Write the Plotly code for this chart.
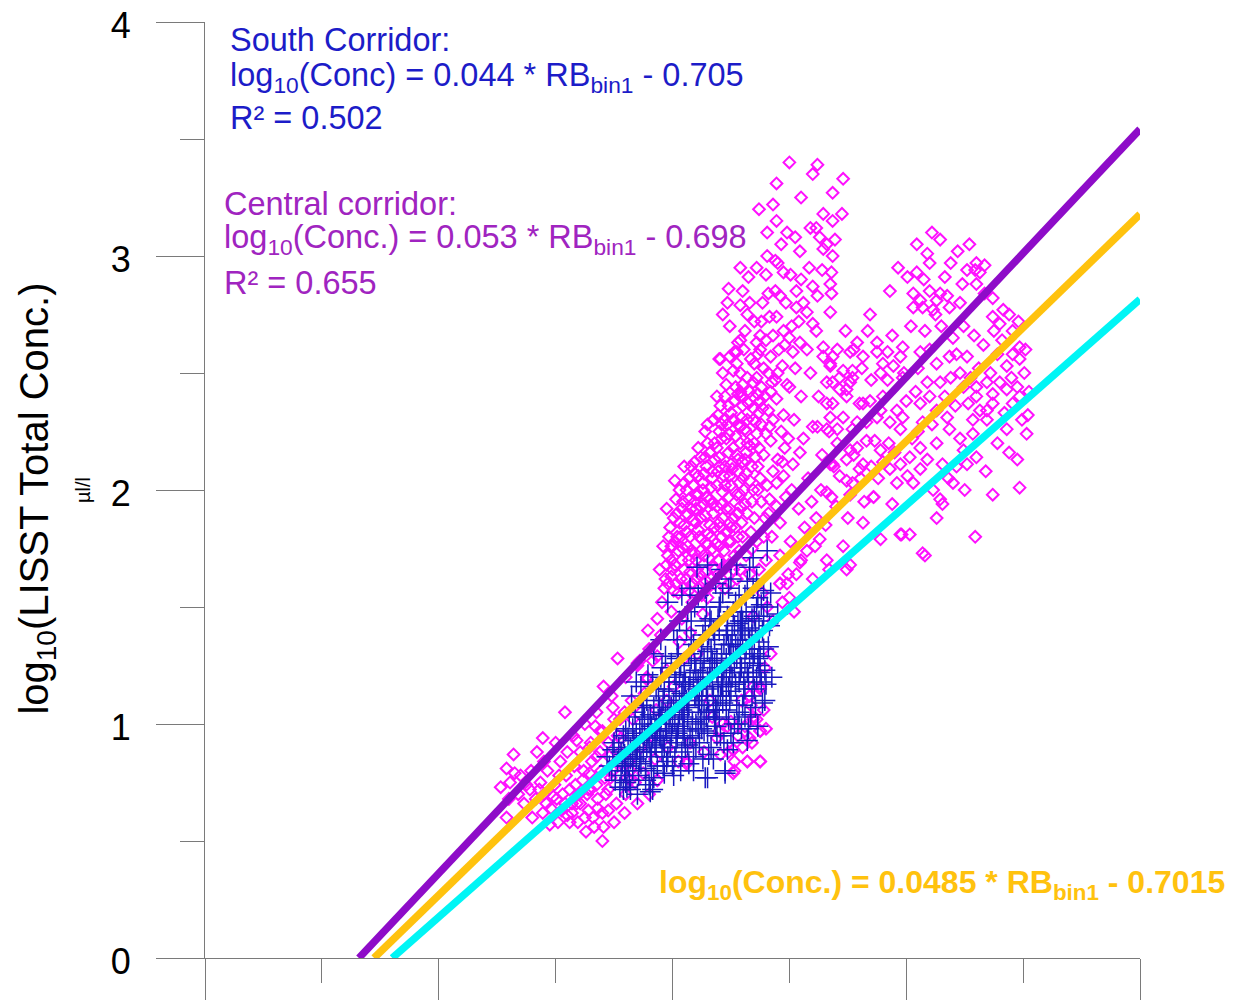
import plotly.graph_objects as go

# ---------------- data ----------------
# regression fits  log10(Conc) = slope * RB_bin1 + intercept
fit_central = (0.053, -0.698)
fit_combined = (0.0485, -0.7015)
fit_south = (0.044, -0.705)
rb_max = 80

x_major_ticks = [0, 20, 40, 60, 80]
y_major_ticks = [0, 1, 2, 3, 4]

# South corridor samples (RB_bin1, log10 conc)
south_pts = [
    (34.4, 0.86), (34.8, 0.80), (35.0, 0.92), (35.3, 0.84), (35.6, 0.78), (35.8, 0.95), (35.2, 0.98),
    (34.9, 0.89), (35.9, 0.87), (35.5, 0.73),
    (36.1, 0.73), (36.2, 0.82), (36.4, 0.90), (36.6, 0.98), (36.8, 1.05), (36.9, 0.85), (37.1, 0.78),
    (37.2, 0.93), (37.4, 1.00), (37.5, 0.88), (37.7, 0.81), (37.8, 1.10), (37.9, 0.96), (36.5, 1.12),
    (37.3, 1.16), (36.3, 0.76), (37.6, 1.03), (36.7, 0.93),
    (38.0, 0.74), (38.1, 0.86), (38.2, 0.99), (38.3, 0.72), (38.4, 1.07), (38.5, 0.91), (38.6, 1.15),
    (38.7, 0.82), (38.8, 1.02), (38.9, 0.95), (39.0, 1.20), (39.1, 0.88), (39.2, 1.10), (39.3, 0.79),
    (39.4, 1.04), (39.5, 0.97), (39.6, 1.52), (39.7, 1.14), (39.8, 0.90), (39.9, 1.26), (38.4, 1.30),
    (39.0, 1.36), (38.2, 0.80), (39.5, 0.84),
    (40.0, 1.00), (40.1, 1.09), (40.2, 0.86), (40.3, 1.18), (40.4, 0.94), (40.5, 1.30), (40.6, 1.04),
    (40.7, 0.80), (40.8, 1.13), (40.9, 0.97), (41.0, 1.22), (41.1, 0.90), (41.2, 1.40), (41.3, 1.07),
    (41.4, 1.16), (41.5, 0.95), (41.6, 1.28), (41.7, 1.01), (41.8, 0.86), (41.9, 1.12), (40.3, 0.92),
    (40.7, 1.25), (41.0, 1.05), (41.4, 0.83), (41.8, 1.34), (40.6, 1.44), (41.3, 1.48),
    (42.0, 1.00), (42.1, 1.67), (42.2, 1.19), (42.3, 0.92), (42.4, 1.27), (42.5, 1.08), (42.6, 1.38),
    (42.7, 0.97), (42.8, 0.77), (42.9, 1.15), (43.0, 1.31), (43.1, 1.05), (43.2, 1.45), (43.3, 0.90),
    (43.4, 1.22), (43.5, 1.12), (43.6, 1.36), (43.7, 0.99), (43.8, 1.28), (43.9, 1.18), (42.2, 1.55),
    (42.9, 1.50), (43.5, 0.85), (42.4, 1.02), (43.0, 1.10), (43.8, 1.06), (42.6, 1.22), (43.3, 1.32),
    (44.0, 1.40), (44.1, 0.95), (44.2, 1.26), (44.3, 1.09), (44.4, 1.34), (44.5, 0.80), (44.6, 1.20),
    (44.7, 1.46), (44.8, 1.02), (44.9, 1.30), (45.0, 1.14), (45.1, 1.38), (45.2, 0.92), (45.3, 1.24),
    (45.4, 1.52), (45.5, 1.08), (45.6, 1.33), (45.7, 1.18), (45.8, 1.44), (45.9, 0.98), (44.3, 1.56),
    (45.0, 1.62), (44.6, 1.06), (45.5, 1.28), (44.2, 1.16), (45.3, 1.42), (44.9, 1.22), (45.7, 1.05),
    (46.0, 1.36), (46.1, 1.12), (46.2, 1.26), (46.3, 1.48), (46.4, 0.93), (46.5, 1.20), (46.6, 1.67),
    (46.7, 1.04), (46.8, 1.32), (46.9, 1.71), (47.0, 1.15), (47.1, 1.40), (47.2, 1.20), (47.3, 0.99),
    (47.5, 1.29), (47.6, 1.51), (47.7, 1.09), (47.9, 1.23), (48.1, 1.50), (48.1, 1.74), (46.2, 1.03),
    (46.9, 1.26), (47.4, 1.35), (46.5, 1.41),
    (36.4, 0.72), (38.1, 0.71), (43.0, 0.77), (44.5, 0.79), (36.0, 0.75), (37.0, 0.70),
    (35.1, 0.76), (35.7, 0.83), (36.0, 0.97), (36.3, 1.03), (36.6, 0.86), (36.9, 0.96), (37.2, 0.84),
    (37.5, 1.07), (37.8, 0.90), (38.1, 1.04), (38.4, 0.77), (38.7, 0.97), (39.0, 1.02), (39.3, 1.15),
    (39.6, 0.86), (39.9, 1.07), (40.2, 1.21), (40.5, 0.99), (40.8, 0.88), (41.1, 1.18), (41.4, 1.30),
    (41.7, 0.94), (42.0, 1.23), (42.3, 1.10), (42.6, 0.85), (42.9, 1.03), (43.2, 1.20), (43.5, 1.40),
    (43.8, 0.95), (44.1, 1.12), (44.4, 1.23), (44.7, 0.89), (45.0, 1.34), (45.3, 1.00), (45.6, 1.43),
    (45.9, 1.24), (46.2, 1.15), (46.5, 0.98), (46.8, 1.45), (47.1, 1.07), (47.4, 1.25), (47.7, 1.40),
    (48.0, 1.17), (39.2, 0.93), (40.0, 0.82), (41.0, 0.98), (42.0, 0.90), (43.0, 0.96), (44.0, 1.03),
    (45.0, 0.96), (46.0, 1.08), (40.4, 1.36), (41.6, 1.44), (42.8, 1.58), (44.0, 1.50), (44.8, 1.58),
    (46.2, 1.55), (47.2, 1.62), (43.7, 1.60), (42.5, 1.33), (43.9, 1.45), (45.2, 1.48), (41.2, 1.10),
    (38.8, 1.12), (37.9, 1.21), (36.9, 1.18), (39.4, 1.29), (40.9, 1.03), (42.1, 1.15), (43.4, 1.27),
    (44.6, 1.38), (45.8, 1.36), (47.0, 1.30), (48.2, 1.33), (48.5, 1.20), (48.3, 1.42), (47.8, 1.57),
    (35.4, 0.90), (36.2, 0.94), (37.0, 0.89), (38.3, 0.94), (39.7, 1.00), (41.3, 0.91), (42.7, 1.05),
    (44.3, 1.17), (45.4, 1.17), (46.6, 1.28), (47.6, 1.18), (48.4, 1.56), (49.0, 1.47), (43.1, 1.38),
    (41.9, 1.50), (40.1, 1.40), (46.4, 1.61), (45.5, 1.68), (44.2, 1.66), (43.0, 1.68), (41.5, 1.58),
    (40.8, 1.55),
    (38.0, 0.92), (38.5, 0.98), (39.0, 0.94), (39.4, 0.98), (39.8, 1.04), (40.2, 1.02), (40.6, 1.10),
    (41.0, 1.12), (41.4, 1.08), (41.8, 1.18), (42.2, 1.08), (42.6, 1.16), (43.0, 1.20), (43.4, 1.16),
    (43.8, 1.22), (44.2, 1.30), (44.6, 1.28), (45.0, 1.26), (45.4, 1.34), (45.8, 1.30), (46.2, 1.40),
    (46.6, 1.36), (47.0, 1.46), (47.4, 1.44), (37.6, 0.95), (37.2, 0.98), (36.8, 0.90), (36.4, 0.85),
    (36.0, 0.82), (35.6, 0.88), (39.6, 1.06), (40.9, 1.17), (42.4, 1.22), (43.6, 1.26), (44.8, 1.34),
    (46.0, 1.44), (47.2, 1.50), (38.6, 0.90), (39.9, 0.95), (41.3, 1.02), (42.5, 1.12), (43.9, 1.12),
    (45.1, 1.20), (46.4, 1.22), (47.8, 1.32), (40.4, 1.28), (41.6, 1.36), (42.8, 1.42), (44.1, 1.52),
    (45.7, 1.55), (46.9, 1.58), (39.1, 1.24), (38.3, 1.18), (37.4, 1.08), (37.9, 1.02), (38.9, 1.07),
    (40.6, 1.20), (41.9, 1.26), (43.3, 1.44), (44.7, 1.40), (45.9, 1.48), (47.3, 1.54), (44.4, 0.92),
    (45.6, 1.00), (46.8, 1.12), (47.9, 1.10), (43.1, 0.87), (41.8, 0.80), (40.1, 0.78), (39.2, 0.82),
    (37.7, 0.76), (35.9, 0.80), (34.6, 0.82), (42.5, 0.98), (43.7, 1.08), (44.9, 1.10), (46.1, 1.18),
    (47.5, 1.22),
    (38.6, 1.00), (39.1, 1.05), (39.7, 1.18), (40.3, 1.12), (40.8, 1.06), (41.5, 1.20), (42.0, 1.12),
    (42.7, 1.28), (43.2, 1.24), (43.6, 1.02), (44.2, 1.20), (44.8, 1.16), (45.2, 1.30), (45.9, 1.40),
    (46.3, 1.32), (46.8, 1.38), (47.3, 1.28), (47.8, 1.46), (41.0, 0.94), (42.2, 0.98), (43.5, 1.06),
    (44.6, 1.12), (45.8, 1.22), (46.9, 1.20), (37.3, 0.83), (38.2, 0.88), (39.3, 0.90), (40.4, 0.96),
    (36.6, 0.80), (35.8, 0.72),
]

# Central corridor samples (RB_bin1, log10 conc)
central_pts = [
    # lower-left tail
    (25.8, 0.81), (26.5, 0.79), (26.1, 0.75), (25.8, 0.60), (28.4, 0.88), (27.8, 0.72), (28.0, 0.60),
    (28.9, 0.62), (30.4, 0.84), (30.8, 1.05), (30.2, 0.58), (31.2, 0.58), (32.1, 0.66), (33.2, 0.60),
    (34.1, 0.56), (34.0, 0.50), (32.1, 0.88), (33.4, 0.99), (31.8, 0.93), (34.1, 1.16), (35.3, 1.28),
    (34.9, 1.07), (32.9, 0.79), (31.2, 0.72), (30.1, 0.68), (32.7, 0.70), (34.5, 0.72), (36.1, 0.77),
    (35.5, 0.88), (37.2, 1.27), (38.3, 1.27), (37.8, 1.20), (38.7, 0.76), (41.2, 0.83), (45.2, 0.89),
    (46.4, 0.84), (47.5, 0.84), (45.3, 0.80), (47.5, 0.97), (46.9, 1.02), (47.5, 1.15), (46.6, 1.12),
    (44.7, 0.99), (46.9, 1.46), (48.1, 1.50), (50.0, 1.54), (49.2, 1.60), (49.9, 1.64),
    (31.5, 0.95), (32.5, 1.00), (33.5, 1.05), (34.8, 1.12), (36.0, 1.20), (37.0, 1.25), (38.0, 1.32),
    (39.0, 1.38), (35.5, 1.02), (36.5, 1.10), (33.0, 0.92), (34.0, 0.97),
    (37.0, 1.26), (38.7, 1.29), (39.5, 1.23), (37.8, 1.19), (40.6, 1.35), (41.5, 1.39), (43.0, 1.54),
    (42.6, 1.47), (44.9, 1.60), (47.7, 1.56), (49.2, 1.60), (46.9, 1.16), (47.5, 1.16), (46.6, 1.12),
    (46.9, 1.03), (47.5, 0.97), (46.6, 0.94), (45.2, 0.89), (46.4, 0.84), (47.5, 0.84), (45.2, 0.79),
    (44.3, 1.00), (43.8, 0.94), (38.7, 0.76), (41.2, 0.84), (36.4, 0.76), (34.7, 0.77), (33.5, 0.86),
    (33.8, 0.97), (35.0, 1.02),
    (44.8, 0.88), (45.6, 0.95), (46.2, 0.99), (45.9, 1.10), (46.7, 1.08), (47.2, 1.02), (45.0, 1.01),
    (44.0, 0.97), (43.4, 1.03), (42.7, 0.88), (41.5, 0.92), (40.5, 0.84), (39.6, 0.90), (38.5, 0.85),
    (37.5, 0.79), (36.8, 0.75), (36.0, 0.70), (35.2, 0.66), (34.5, 0.63), (33.6, 0.68), (32.8, 0.63),
    (31.8, 0.66), (31.0, 0.61), (30.6, 0.70), (29.6, 0.64), (29.0, 0.70), (28.3, 0.68), (27.5, 0.74),
    (26.8, 0.70), (26.0, 0.68), (48.6, 1.44), (49.4, 1.52), (50.4, 1.48),
    (27.0, 0.78), (27.3, 0.66), (28.7, 0.75), (29.3, 0.80), (29.9, 0.74), (30.9, 0.78), (31.6, 0.82),
    (32.3, 0.76), (33.0, 0.72), (33.9, 0.80), (34.6, 0.86), (35.6, 0.94), (36.3, 0.84), (37.3, 0.90),
    (38.2, 0.95), (31.9, 0.58), (32.6, 0.54), (33.3, 0.56), (29.5, 0.57), (30.0, 0.92), (28.9, 0.94),
    (26.4, 0.87), (25.3, 0.73), (35.0, 0.58), (35.9, 0.62), (37.0, 0.66), (38.0, 0.70), (34.3, 0.70),
    (36.6, 1.02), (37.6, 1.13), (38.6, 1.06), (39.5, 1.10), (40.1, 1.16), (41.0, 1.28), (42.1, 1.30),
    (43.2, 1.10), (44.1, 0.87), (45.3, 0.84), (46.0, 0.90), (46.8, 0.92), (47.8, 1.06), (48.0, 0.98),
    (47.9, 1.24), (48.4, 1.30),
    (30.5, 0.63), (31.4, 0.66), (32.0, 0.70), (32.8, 0.72), (33.5, 0.74), (34.2, 0.77), (34.9, 0.80),
    (35.6, 0.83), (36.4, 0.80), (31.7, 0.74), (32.4, 0.80), (33.1, 0.84), (33.8, 0.88), (34.5, 0.92),
    (35.3, 0.95), (30.8, 0.66), (29.8, 0.69), (29.2, 0.66), (28.6, 0.72), (27.9, 0.80), (31.0, 0.88),
    (32.9, 0.90), (35.9, 1.05), (36.9, 1.08), (34.0, 0.62), (32.5, 0.60), (31.4, 0.62), (33.6, 0.64),
    (29.0, 0.84), (30.3, 0.78),
    # dense column
    (39.3, 1.58), (39.9, 1.63), (40.5, 1.56), (41.0, 1.66), (41.7, 1.60), (42.3, 1.64), (43.0, 1.58),
    (43.6, 1.66), (44.2, 1.62), (38.9, 1.66), (40.0, 1.66), (42.1, 1.66), (43.5, 1.67),
    (39.6, 1.72), (40.2, 1.78), (40.8, 1.70), (41.3, 1.76), (41.9, 1.73), (42.5, 1.79), (43.1, 1.71),
    (43.7, 1.77), (44.4, 1.74), (45.0, 1.78), (39.2, 1.76), (45.6, 1.80),
    (39.8, 1.84), (40.4, 1.90), (41.0, 1.85), (41.6, 1.92), (42.2, 1.83), (42.8, 1.89), (43.4, 1.94),
    (44.0, 1.86), (44.6, 1.92), (45.2, 1.88), (45.8, 1.93), (46.4, 1.90), (40.9, 1.95), (43.0, 1.81),
    (40.6, 2.00), (41.4, 2.05), (42.0, 1.98), (42.7, 2.07), (43.3, 2.01), (43.9, 2.08), (44.5, 2.02),
    (45.1, 2.09), (45.7, 2.03), (46.3, 2.07), (46.9, 2.00), (47.5, 2.05), (48.1, 2.02), (41.8, 2.02),
    (44.3, 1.99), (42.2, 1.98), (40.0, 1.76), (40.4, 1.80), (42.4, 1.93),
    (42.4, 2.14), (43.0, 2.20), (43.6, 2.13), (44.2, 2.22), (44.8, 2.16), (45.4, 2.23), (46.0, 2.12),
    (46.6, 2.19), (47.2, 2.24), (47.8, 2.15), (48.4, 2.21), (49.0, 2.13), (49.6, 2.18), (45.0, 2.11),
    (43.5, 2.30), (44.1, 2.36), (44.7, 2.28), (45.3, 2.38), (45.9, 2.31), (46.5, 2.37), (47.1, 2.29),
    (47.7, 2.35), (48.3, 2.27), (48.9, 2.39), (49.5, 2.32), (46.2, 2.26), (45.8, 2.27), (45.8, 2.40),
    (44.6, 2.45), (45.2, 2.51), (45.8, 2.42), (46.4, 2.48), (47.0, 2.54), (47.6, 2.44), (48.2, 2.50),
    (48.8, 2.47), (49.4, 2.53), (50.0, 2.44), (47.3, 2.41), (46.9, 2.46), (46.9, 2.35),
    (44.0, 2.56), (45.5, 2.59), (45.8, 2.50), (45.8, 2.64), (47.5, 2.66), (45.6, 2.41), (45.8, 2.27),
    (41.8, 2.02), (48.5, 1.80), (49.2, 1.86), (50.1, 1.78), (50.8, 1.92), (49.7, 1.97), (51.3, 1.84),
    (48.9, 1.93),
    (39.5, 1.68), (40.3, 1.60), (41.2, 1.62), (42.0, 1.70), (42.8, 1.65), (43.4, 1.75), (44.0, 1.70),
    (44.8, 1.68), (39.7, 1.80), (40.6, 1.86), (41.5, 1.80), (42.4, 1.88), (43.2, 1.85), (44.2, 1.80),
    (45.0, 1.84), (45.9, 1.86), (46.8, 1.95), (40.9, 1.75), (41.9, 1.95), (42.9, 1.97), (43.8, 1.93),
    (44.8, 1.97), (45.5, 1.98), (46.1, 2.00), (47.3, 2.10), (41.0, 2.10), (41.9, 2.12), (42.9, 2.10),
    (43.8, 2.18), (44.5, 2.10), (45.5, 2.15), (46.3, 2.25), (47.4, 2.18), (48.6, 2.30), (49.3, 2.25),
    (42.8, 2.25), (43.8, 2.40), (44.4, 2.30), (45.0, 2.33), (46.0, 2.45), (46.9, 2.30), (47.9, 2.40),
    (48.4, 2.57), (49.1, 2.60), (49.8, 2.45), (50.5, 2.52), (51.0, 2.40), (50.4, 2.30), (51.2, 2.22),
    (51.8, 2.50), (52.5, 2.40), (51.5, 2.60), (50.8, 2.72), (49.7, 2.80), (47.7, 2.80), (47.0, 2.72),
    (46.2, 2.68), (44.9, 2.70), (44.3, 2.75), (48.0, 2.92), (47.2, 2.95), (51.7, 2.95), (50.9, 3.02),
    (49.3, 3.05), (47.4, 3.20), (51.0, 3.25), (39.1, 1.52), (38.7, 1.45), (37.9, 1.40), (39.9, 1.48),
    (40.8, 1.45), (41.7, 1.52), (42.5, 1.55), (44.5, 1.58), (45.5, 1.62), (46.3, 1.72), (47.2, 1.78),
    (47.9, 1.88), (46.7, 1.82), (47.6, 1.95), (48.6, 2.08), (49.5, 2.06), (50.2, 2.00), (51.6, 2.05),
    (52.8, 2.15), (53.4, 2.25), (52.3, 1.88), (53.6, 1.97), (55.0, 1.88), (56.4, 1.95),
    (40.2, 1.68), (40.7, 1.62), (41.4, 1.70), (42.0, 1.62), (42.7, 1.72), (43.3, 1.62), (44.0, 1.76),
    (44.6, 1.82), (45.3, 1.72), (39.4, 1.62), (39.9, 1.70), (40.5, 1.74), (41.2, 1.82), (41.8, 1.87),
    (42.4, 1.74), (43.0, 1.77), (43.6, 1.84), (44.3, 1.88), (44.9, 1.86), (45.6, 1.90), (46.2, 1.94),
    (40.1, 1.88), (40.8, 1.92), (41.4, 1.96), (42.0, 1.92), (42.6, 2.00), (43.2, 1.96), (43.8, 2.02),
    (44.4, 2.06), (45.0, 2.02), (45.6, 2.08), (46.2, 2.13), (46.8, 2.10), (41.2, 2.00), (41.6, 2.10),
    (42.2, 2.06), (42.8, 2.14), (43.4, 2.08), (44.0, 2.14), (44.6, 2.22), (45.2, 2.18), (45.8, 2.20),
    (46.4, 2.30), (47.0, 2.20), (47.6, 2.28), (48.2, 2.34), (43.0, 2.28), (43.6, 2.20), (44.2, 2.28),
    (44.8, 2.36), (45.4, 2.44), (46.0, 2.36), (46.6, 2.42), (47.2, 2.48), (47.8, 2.52), (48.4, 2.42),
    (49.0, 2.50), (44.3, 2.50), (44.9, 2.57), (45.5, 2.54), (46.1, 2.60), (46.7, 2.56), (47.3, 2.58),
    (48.0, 2.64), (48.6, 2.66), (49.6, 2.62), (50.2, 2.70), (46.4, 2.75), (47.6, 2.72), (48.8, 2.85),
    (50.1, 2.92), (51.0, 2.90), (52.8, 2.94), (49.2, 1.72), (48.0, 1.70), (47.4, 1.66), (46.6, 1.64),
    (45.8, 1.66), (48.3, 1.96), (47.0, 1.88),
    (39.6, 1.60), (40.1, 1.57), (40.9, 1.58), (41.5, 1.65), (42.2, 1.58), (42.9, 1.61), (43.6, 1.60),
    (44.4, 1.66), (45.2, 1.66), (39.9, 1.76), (40.7, 1.80), (41.6, 1.74), (42.3, 1.80), (43.3, 1.80),
    (44.1, 1.84), (44.8, 1.78), (45.4, 1.84), (46.0, 1.80), (39.5, 1.92), (40.3, 1.96), (41.2, 1.90),
    (42.0, 1.86), (42.7, 1.94), (43.5, 1.90), (44.2, 1.94), (44.9, 1.92), (45.8, 1.98), (46.6, 2.04),
    (40.2, 2.04), (41.0, 2.03), (41.9, 2.07), (42.6, 2.03), (43.4, 2.05), (44.0, 2.10), (44.9, 2.06),
    (45.6, 2.13), (46.3, 2.16), (47.1, 2.14), (42.2, 2.18), (43.2, 2.16), (44.0, 2.25), (44.8, 2.24),
    (45.6, 2.28), (46.4, 2.20), (47.4, 2.33), (48.0, 2.24), (43.9, 2.32), (44.5, 2.40), (45.2, 2.30),
    (46.0, 2.40), (46.9, 2.40), (47.5, 2.38), (48.5, 2.46), (41.4, 1.57), (43.9, 1.70), (45.7, 1.74),
    (46.8, 1.75), (47.8, 1.80), (48.2, 1.90), (47.3, 2.00), (46.0, 2.05), (48.9, 2.03), (49.4, 2.12),
    (49.9, 2.22),
    # between column and right cloud
    (52.0, 2.27), (50.9, 2.16), (50.3, 2.11), (53.7, 2.11), (54.9, 2.04), (57.2, 1.97), (52.6, 1.79),
    (51.5, 1.74), (53.2, 1.70), (54.9, 1.66), (50.9, 1.69), (52.0, 1.62), (49.8, 1.60),
    (51.0, 1.70), (52.2, 1.76), (53.1, 1.85), (54.0, 1.93), (55.2, 1.98), (56.1, 2.05), (57.0, 2.10),
    (52.7, 2.00), (53.8, 2.10), (55.5, 2.15), (51.9, 1.95), (50.6, 1.64), (53.4, 1.66), (54.6, 1.76),
    (56.3, 1.86), (57.8, 1.79), (59.6, 1.81), (55.2, 1.68),
    # upper spikes
    (50.0, 3.40), (52.4, 3.39), (52.0, 3.35), (54.6, 3.33), (48.9, 3.31), (53.7, 3.27), (48.6, 3.22),
    (52.9, 3.18), (54.5, 3.18), (48.9, 3.15), (53.7, 3.15), (51.8, 3.12), (52.3, 3.12), (48.1, 3.10),
    (49.8, 3.10), (50.5, 3.08), (52.6, 3.08), (53.9, 3.07), (53.2, 3.05), (52.9, 3.03), (53.7, 3.00),
    (48.1, 3.00), (48.8, 2.98), (45.8, 2.95), (46.5, 2.91), (49.0, 2.97), (49.5, 2.93), (53.6, 2.93),
    (53.5, 2.88), (52.0, 2.87), (52.4, 2.83), (53.6, 2.84), (44.8, 2.86), (46.0, 2.85), (44.7, 2.80),
    (45.8, 2.79), (46.6, 2.80), (48.2, 2.84), (49.2, 2.83), (50.6, 2.85), (51.2, 2.80), (50.6, 2.78),
    (51.5, 2.76), (48.3, 2.74), (48.9, 2.74), (53.5, 2.76), (49.5, 2.68), (50.0, 2.65), (50.9, 2.63),
    (52.0, 2.71), (52.3, 2.68), (45.6, 2.63), (47.2, 2.63), (44.1, 2.56), (45.3, 2.59), (47.5, 2.60),
    (50.3, 2.59), (55.8, 2.63), (56.7, 2.68), (57.5, 2.63), (54.1, 2.60), (55.2, 2.59), (56.3, 2.57),
    (52.9, 2.57), (53.5, 2.53), (54.6, 2.51), (55.4, 2.48), (58.0, 2.54), (53.7, 2.46), (54.3, 2.43),
    (54.9, 2.40), (56.3, 2.37), (57.8, 2.34), (53.2, 2.37), (53.5, 2.31), (54.1, 2.26), (55.8, 2.29),
    (56.6, 2.21), (57.8, 2.17), (55.2, 2.17), (52.4, 2.27),
    # right cloud
    (62.2, 3.10), (60.9, 3.05), (61.8, 3.01), (62.0, 2.97), (60.9, 2.93), (60.1, 2.91), (66.0, 2.97),
    (65.2, 2.94), (66.3, 2.93), (66.0, 2.88), (63.3, 2.91), (60.6, 2.84), (61.2, 2.81), (62.0, 2.85),
    (62.9, 2.84), (63.5, 2.83), (62.6, 2.81), (61.4, 2.78), (60.6, 2.78), (62.3, 2.77), (63.7, 2.78),
    (62.5, 2.75), (64.6, 2.80), (64.8, 2.88), (62.9, 3.07), (66.7, 2.96), (65.9, 2.94),
    (64.9, 2.70), (67.4, 2.82), (68.3, 2.77), (67.4, 2.74), (68.0, 2.71), (69.1, 2.68), (68.2, 2.64),
    (69.7, 2.61), (69.1, 2.58), (69.7, 2.56), (68.6, 2.53), (69.0, 2.48), (69.5, 2.44), (68.6, 2.43),
    (69.7, 2.40), (69.1, 2.37), (67.4, 2.41), (68.0, 2.46), (66.9, 2.34), (67.4, 2.37), (66.0, 2.40),
    (66.3, 2.34), (65.7, 2.30), (66.9, 2.30), (65.3, 2.37), (64.6, 2.50), (64.9, 2.44), (66.0, 2.44),
    (66.9, 2.46), (65.2, 2.57), (64.3, 2.58), (63.7, 2.57), (70.4, 2.32), (70.3, 2.24), (69.5, 2.13),
    (69.7, 2.01), (68.6, 2.26), (65.7, 2.24), (64.9, 2.17), (66.0, 2.14), (65.2, 2.11), (64.3, 2.10),
    (62.9, 1.96), (62.6, 1.88), (61.4, 1.73), (59.5, 1.81), (64.0, 2.03),
    (59.7, 2.61), (58.4, 2.59), (57.5, 2.59), (59.5, 2.57), (61.2, 2.59), (62.6, 2.54), (58.9, 2.53),
    (57.8, 2.50), (58.4, 2.47), (59.7, 2.48), (55.4, 2.51), (53.7, 2.57), (55.2, 2.46), (56.0, 2.37),
    (56.9, 2.38), (57.5, 2.31), (56.6, 2.29), (59.2, 2.34), (59.7, 2.31), (58.6, 2.29), (59.5, 2.26),
    (61.8, 2.46), (62.0, 2.40), (61.2, 2.37), (62.9, 2.46), (62.6, 2.34), (63.5, 2.31), (63.7, 2.26),
    (61.4, 2.29), (62.6, 2.20), (61.2, 2.18), (60.3, 2.14), (59.5, 2.11), (60.1, 2.06), (61.2, 2.09),
    (61.8, 2.13), (63.1, 2.11), (58.6, 2.09), (59.2, 2.03), (57.2, 1.97), (58.8, 1.94), (63.1, 1.94),
    (60.6, 2.03), (61.6, 1.72), (60.3, 1.81),
    (52.9, 2.61), (53.5, 2.54), (54.3, 2.48), (53.2, 2.46), (54.9, 2.43), (53.7, 2.37), (54.6, 2.31),
    (55.4, 2.26), (53.2, 2.26), (54.1, 2.20), (55.8, 2.18), (54.9, 2.13), (56.3, 2.11), (53.5, 2.11),
    (54.3, 2.06), (55.4, 2.03), (53.2, 1.99), (56.0, 2.09),
    (57.6, 2.05), (58.5, 2.20), (58.0, 2.40), (57.0, 2.47), (56.2, 2.52), (55.5, 2.60), (54.8, 2.68),
    (56.9, 2.75), (58.8, 2.66), (60.4, 2.70), (61.6, 2.68), (63.0, 2.70), (64.0, 2.65), (65.8, 2.66),
    (66.6, 2.62), (67.8, 2.58), (67.2, 2.50), (66.2, 2.52), (65.5, 2.48), (63.3, 2.40), (64.2, 2.36),
    (63.8, 2.48), (60.8, 2.42), (60.0, 2.38), (61.0, 2.25), (62.2, 2.28), (60.5, 2.22), (58.0, 2.12),
    (57.3, 2.21), (59.0, 2.16), (64.6, 2.22), (67.8, 2.20), (68.4, 2.33), (69.9, 2.30), (70.1, 2.50),
    (70.5, 2.42), (68.8, 2.16), (66.8, 2.08), (65.0, 2.00), (63.6, 2.05), (62.3, 2.00), (67.4, 1.98),
    (65.9, 1.80), (62.0, 2.60), (61.0, 2.52), (59.8, 2.50), (63.8, 2.97), (64.4, 3.02), (65.4, 3.05),
    (61.5, 2.90), (59.3, 2.95), (58.6, 2.85), (66.7, 2.84), (67.5, 2.68), (68.8, 2.75), (69.6, 2.72),
    (70.2, 2.60),
]

south_x = [p[0] for p in south_pts]
south_y = [p[1] for p in south_pts]
central_x = [p[0] for p in central_pts]
central_y = [p[1] for p in central_pts]

FONT = "Liberation Sans, Arial, sans-serif"
AXIS_GRAY = "#7a7a7a"


def fit_line(fit):
    m, b = fit
    x0 = -b / m
    return [x0, rb_max], [0, m * rb_max + b]


fig = go.Figure()

fig.add_trace(go.Scatter(
    x=central_x, y=central_y, mode="markers", name="Central corridor",
    marker=dict(symbol="diamond-open", size=9, color="#FF10FF", line=dict(width=2, color="#FF10FF")),
    cliponaxis=False,
))
fig.add_trace(go.Scatter(
    x=south_x, y=south_y, mode="markers", name="South corridor",
    marker=dict(symbol="cross-thin-open", size=15, color="#1818C0", line=dict(width=1.5, color="#1818C0")),
    cliponaxis=False,
))

for fit, col in [(fit_south, "#00F5F5"), (fit_combined, "#FFC20E"), (fit_central, "#8E0CC8")]:
    lx, ly = fit_line(fit)
    fig.add_trace(go.Scatter(x=lx, y=ly, mode="lines", line=dict(color=col, width=7.5), cliponaxis=False))

blue_txt = "#1C1CC8"
purple_txt = "#A024C0"
gold_txt = "#FFC20E"

ann = [
    dict(text="South Corridor:", x=0.0246, y=0.9808, color=blue_txt),
    dict(text="log<sub>10</sub>(Conc) = 0.044 * RB<sub>bin1</sub> - 0.705", x=0.0246, y=0.9408, color=blue_txt),
    dict(text="R² = 0.502", x=0.0246, y=0.8974, color=blue_txt),
    dict(text="Central corridor:", x=0.0182, y=0.8056, color=purple_txt),
    dict(text="log<sub>10</sub>(Conc.) = 0.053 * RB<sub>bin1</sub> - 0.698", x=0.0182, y=0.7671, color=purple_txt),
    dict(text="R² = 0.655", x=0.0182, y=0.7212, color=purple_txt),
]
annotations = []
for a in ann:
    annotations.append(dict(
        text=a["text"], x=a["x"], y=a["y"], xref="paper", yref="paper",
        xanchor="left", yanchor="middle", showarrow=False,
        font=dict(family=FONT, size=32.5, color=a["color"]),
    ))
annotations.append(dict(
    text="<b>log<sub>10</sub>(Conc.) = 0.0485 * RB<sub>bin1</sub> - 0.7015</b>",
    x=0.4834, y=0.078, xref="paper", yref="paper", xanchor="left", yanchor="middle",
    showarrow=False, font=dict(family=FONT, size=32, color=gold_txt),
))
annotations.append(dict(
    text="log<sub>10</sub>(LISST Total Conc.)", x=-0.1795, y=0.491, xref="paper", yref="paper",
    xanchor="center", yanchor="middle", textangle=-90, showarrow=False,
    font=dict(family=FONT, size=40, color="black"),
))
annotations.append(dict(
    text="µl/l", x=-0.1305, y=0.5, xref="paper", yref="paper",
    xanchor="center", yanchor="middle", textangle=-90, showarrow=False,
    font=dict(family=FONT, size=20, color="black"),
))

# page body adds an 8px offset, margins compensate so the plot area sits at 205..1140 x 22..958
fig.update_layout(
    width=1235, height=1000,
    margin=dict(l=197, r=103, t=14, b=50, autoexpand=False),
    paper_bgcolor="white", plot_bgcolor="white",
    showlegend=False,
    annotations=annotations,
    font=dict(family=FONT),
)
fig.update_xaxes(
    range=[0, rb_max], tickvals=x_major_ticks, showticklabels=False, automargin=False,
    showline=True, linecolor=AXIS_GRAY, linewidth=1, showgrid=False, zeroline=False,
    ticks="outside", ticklen=50, tickcolor=AXIS_GRAY, tickwidth=1,
    minor=dict(dtick=10, tick0=0, ticks="outside", ticklen=24, tickcolor=AXIS_GRAY, tickwidth=1, showgrid=False),
)
fig.update_yaxes(
    range=[0, 4], tickvals=y_major_ticks, automargin=False, ticklabeloverflow="allow",
    showline=True, linecolor=AXIS_GRAY, linewidth=1, showgrid=False, zeroline=False,
    ticks="outside", ticklen=48, tickcolor=AXIS_GRAY, tickwidth=1,
    tickfont=dict(family=FONT, size=36, color="black"), ticklabelstandoff=18, ticklabelshift=3,
    minor=dict(dtick=0.5, tick0=0, ticks="outside", ticklen=24, tickcolor=AXIS_GRAY, tickwidth=1, showgrid=False),
)

fig.write_html("out.html")
